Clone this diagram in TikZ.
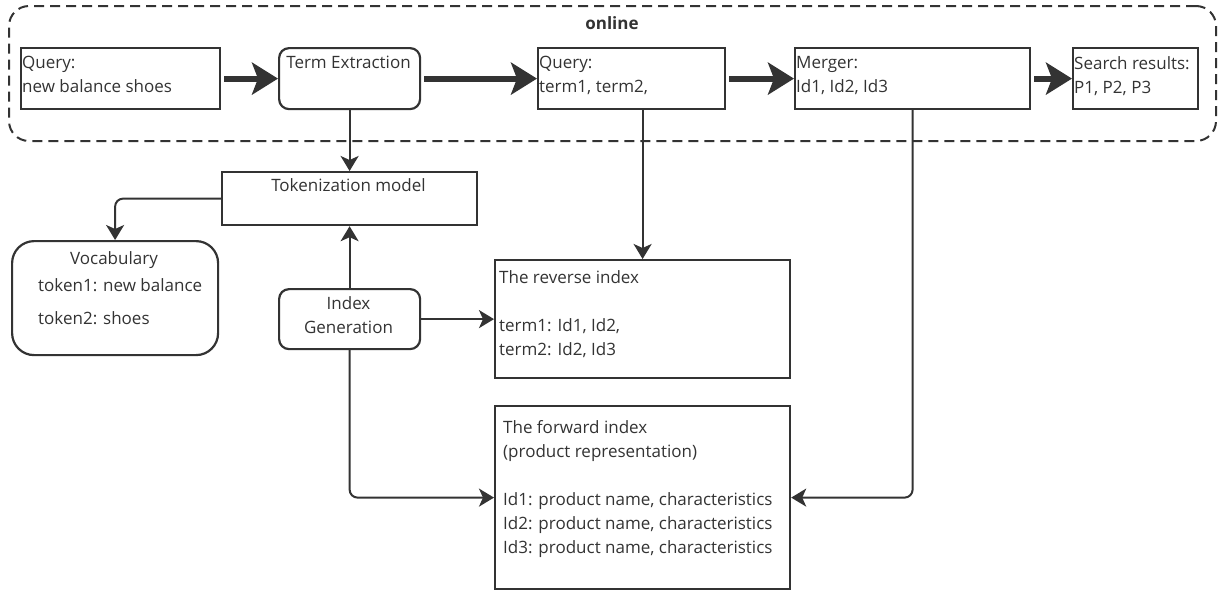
\documentclass[tikz,border=0pt]{standalone}
\usepackage{fontspec}
\setmainfont{Open Sans}
\usetikzlibrary{arrows.meta}
\definecolor{ink}{HTML}{333333}

\tikzset{
  blk/.style={draw=ink, line width=2.2pt, anchor=north west, inner sep=0pt},
  rblk/.style={blk, rounded corners=10pt},
  txt/.style={text=ink, inner sep=0pt, align=left, font=\fontsize{17}{24}\selectfont, execute at begin node=\strut},
  bigarr/.style={draw=ink, line width=6pt, shorten <=3pt, -{Stealth[length=26pt,width=32pt,inset=6pt]}},
  arr/.style={draw=ink, line width=2pt, rounded corners=8pt, -{Stealth[length=15pt,width=18pt,inset=4pt]}},
}

\begin{document}
\begin{tikzpicture}[x=1pt,y=1pt,yscale=-1,xscale=1]
\path[use as bounding box] (0,0) rectangle (1218,590);

%online frame
\node[draw=ink, line width=2pt, dash pattern=on 10pt off 6pt, rounded corners=20pt, anchor=north west, inner sep=0pt, minimum width=1207pt, minimum height=135pt] (onlinebox) at (8,5) {};
\node[txt, font=\fontsize{17}{24}\selectfont\bfseries, anchor=north] (onlinetxt) at (612,12) {online};

%upper row
\node[blk, minimum width=199pt, minimum height=61pt] (query) at (20,47) {};
\node[rblk, minimum width=141pt, minimum height=61pt] (termx) at (278,47) {};
\node[blk, minimum width=187pt, minimum height=61pt] (terms) at (537,47) {};
\node[blk, minimum width=235pt, minimum height=61pt] (merger) at (794,47) {};
\node[blk, minimum width=125pt, minimum height=61pt] (results) at (1072,47) {};

\node[txt, anchor=north west] (querytxt) at (22,56.2) {Query:\\new balance shoes};
\node[txt, anchor=north] (termxtxt) at (348.5,51.2) {Term Extraction};
\node[txt, anchor=north west] (termstxt) at (539,56.2) {Query:\\term1, term2,};
\node[txt, anchor=north west] (mergertxt) at (796,56.2) {Merger:\\Id1, Id2, Id3};
\node[txt, anchor=north west] (resultstxt) at (1074,56.2) {Search results:\\P1, P2, P3};

%offline part
\node[blk, minimum width=255pt, minimum height=53pt] (tokmodel) at (221,171) {};
\node[txt, anchor=north] (tokmodeltxt) at (348.5,174.2) {Tokenization model};

\node[blk, rounded corners=22pt, minimum width=206pt, minimum height=114pt] (vocab) at (11,240) {};
\node[txt, anchor=north] (vocabtxt) at (114,247) {Vocabulary};
\node[txt, anchor=north west] (tokenstxt) at (38,278.2) {token1: new balance\\[9pt]token2: shoes};

\node[rblk, minimum width=141pt, minimum height=60pt] (indexgen) at (278,288) {};
\node[txt, align=center, anchor=north] (indexgentxt) at (348.5,296.2) {Index\\Generation};

\node[blk, minimum width=295pt, minimum height=118pt] (reverse) at (494,259) {};
\node[txt, anchor=north west] (reversetxt) at (499,270.2) {The reverse index\\[24pt]term1: Id1, Id2,\\term2: Id2, Id3};

\node[blk, minimum width=295pt, minimum height=183pt] (forward) at (494,405) {};
\node[txt, anchor=north west] (forwardtxt) at (503,420.2) {The forward index\\(product representation)\\[24pt]Id1: product name, characteristics\\Id2: product name, characteristics\\Id3: product name, characteristics};

%thick arrows
\draw[bigarr] (query.east) -- (termx.west);
\draw[bigarr] (termx.east) -- (terms.west);
\draw[bigarr] (terms.east) -- (merger.west);
\draw[bigarr] (merger.east) -- (results.west);

%thin arrows
\draw[arr] (termx.south) -- (tokmodel.north);
\draw[arr] (tokmodel.west) -| (vocab.north);
\draw[arr] (indexgen.north) -- (tokmodel.south);
\draw[arr] (indexgen.east) -- (reverse.west);
\draw[arr] (indexgen.south) |- (forward.west);
\draw[arr] (terms.south -| reverse.north) -- (reverse.north);
\draw[arr] (merger.south) |- (forward.east);

\end{tikzpicture}
\end{document}
